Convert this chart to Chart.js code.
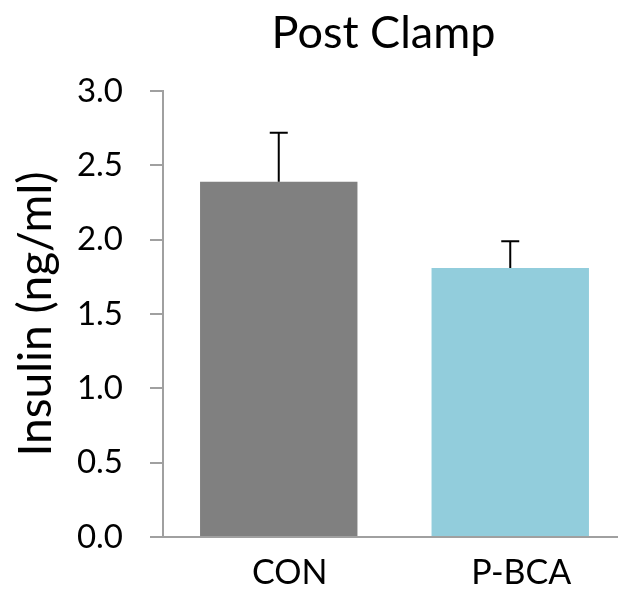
<!DOCTYPE html>
<html>
<head>
<meta charset="utf-8">
<script src="https://cdn.jsdelivr.net/npm/chart.js@4/dist/chart.umd.min.js"></script>
<style>
  html, body { margin: 0; padding: 0; background: #ffffff; }
  #wrap { width: 618px; height: 599px; overflow: hidden; position: relative; }
  #c { display: block; }
</style>
</head>
<body>
<div id="wrap"><canvas id="c" width="640" height="599"></canvas></div>
<script>
const chartTitle = "Post Clamp";
const yAxisTitle = "Insulin (ng/ml)";
const categories = ["CON", "P-BCA"];
const insulinValues = [2.39, 1.81];
const insulinErrors = [0.33, 0.18];
const barColors = ["#808080", "#92CDDC"];
const yTickMin = 0;
const yTickMax = 3;
const yTickStep = 0.5;

const FONT = "Lato, 'Open Sans', sans-serif";
const AXIS_GREY = "#A0A0A0";

const errorBarPlugin = {
  id: "errorBars",
  afterDatasetsDraw(chart) {
    const ctx = chart.ctx;
    const meta = chart.getDatasetMeta(0);
    const yScale = chart.scales.y;
    ctx.save();
    ctx.strokeStyle = "#000000";
    ctx.lineWidth = 2;
    meta.data.forEach((bar, i) => {
      const v = insulinValues[i];
      const e = insulinErrors[i];
      const yTop = yScale.getPixelForValue(v + e);
      const yBase = yScale.getPixelForValue(v);
      const cap = 9;
      ctx.beginPath();
      ctx.moveTo(bar.x, yBase);
      ctx.lineTo(bar.x, yTop);
      ctx.moveTo(bar.x - cap, yTop);
      ctx.lineTo(bar.x + cap, yTop);
      ctx.stroke();
    });
    ctx.restore();
  }
};

const titleShiftPlugin = {
  id: "titleShift",
  afterLayout(chart) {
    const t = chart.titleBlock;
    if (!t) return;
    const dx = -11;
    t.left += dx;
    t.right += dx;
  }
};

new Chart(document.getElementById("c"), {
  type: "bar",
  data: {
    labels: categories,
    datasets: [{
      data: insulinValues,
      backgroundColor: barColors,
      borderWidth: 0,
      categoryPercentage: 1.0,
      barPercentage: 0.68
    }]
  },
  options: {
    responsive: false,
    animation: false,
    devicePixelRatio: 1,
    layout: { padding: { left: 0, right: 14, top: 0, bottom: 0 } },
    plugins: {
      legend: { display: false },
      tooltip: { enabled: false },
      title: {
        display: true,
        text: chartTitle,
        fullSize: false,
        color: "#000000",
        font: { family: FONT, size: 45, weight: "normal", lineHeight: 1.2 },
        padding: { top: 6, bottom: 31 }
      }
    },
    scales: {
      x: {
        grid: { display: false, drawTicks: false },
        border: { display: true, color: AXIS_GREY, width: 2 },
        ticks: {
          color: "#000000",
          font: { family: FONT, size: 34 },
          padding: 16,
          labelOffset: 11,
          maxRotation: 0
        },
        afterFit(scale) { scale.height = 62; }
      },
      y: {
        min: yTickMin,
        max: yTickMax,
        grid: {
          display: true,
          drawOnChartArea: false,
          drawTicks: true,
          tickLength: 13,
          color: AXIS_GREY,
          lineWidth: 2
        },
        border: { display: true, color: AXIS_GREY, width: 2 },
        ticks: {
          stepSize: yTickStep,
          color: "#000000",
          font: { family: FONT, size: 33 },
          padding: 27,
          callback: (v) => Number(v).toFixed(1)
        },
        title: {
          display: true,
          text: yAxisTitle,
          color: "#000000",
          font: { family: FONT, size: 46, weight: "normal", lineHeight: 1.2 },
          padding: { top: 9, bottom: 0 }
        },
        afterFit(scale) { scale.width = 163; }
      }
    }
  },
  plugins: [errorBarPlugin, titleShiftPlugin]
});
</script>
</body>
</html>
